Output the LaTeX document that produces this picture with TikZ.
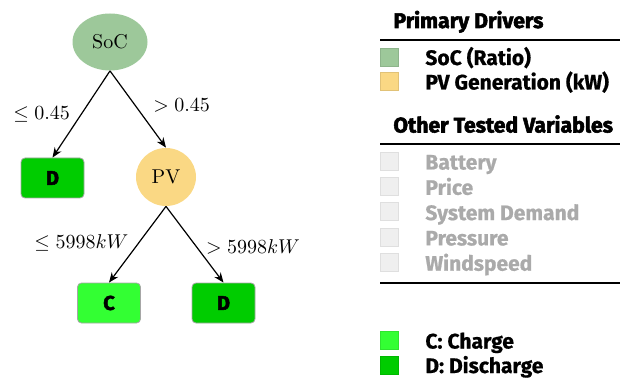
\documentclass[tikz,border=0pt]{standalone}
\usepackage{fontspec}
\newfontfamily\legfont[FakeBold=0.8]{Fira Sans}
\newfontfamily\legheavy[FakeBold=2.5]{Fira Sans}
\usetikzlibrary{shapes.geometric,arrows.meta}
\definecolor{socgreen}{HTML}{9DC89A}
\definecolor{pvyellow}{HTML}{FAD884}
\definecolor{chgreen}{HTML}{33FF33}
\definecolor{dsgreen}{HTML}{00CC00}
\definecolor{offgrey}{HTML}{AAAAAA}
\definecolor{offfill}{HTML}{EFEFEF}
\tikzset{
  splitnode/.style={ellipse,inner sep=0pt,font=\fontsize{10}{12}\selectfont},
  leafbox/.style={rectangle,rounded corners=2pt,draw=gray!70,minimum width=31.5pt,minimum height=20pt,font=\legheavy\bfseries\fontsize{10}{12}\selectfont},
  legkey/.style={rectangle,minimum size=9pt,inner sep=0pt},
  legtext/.style={anchor=base west,inner sep=0pt,font=\legfont\bfseries\fontsize{10.5}{12}\selectfont},
  leghead/.style={anchor=base west,inner sep=0pt,font=\legheavy\bfseries\fontsize{10.6}{13}\selectfont},
  branch/.style={-{Stealth[length=5pt,width=4pt]},semithick}
}
\begin{document}
\begin{tikzpicture}[x=0.5pt,y=-0.5pt]
	\useasboundingbox (0,0) rectangle (620,379);
	% tree
	\node[splitnode,fill=socgreen,minimum width=37.5pt,minimum height=28.5pt] (soc) at (110,42) {SoC};
	\node[leafbox,fill=dsgreen] (leafa) at (52.5,178) {D};
	\node[splitnode,fill=pvyellow,minimum width=30pt,minimum height=29pt] (pv) at (166,177) {PV};
	\node[leafbox,fill=chgreen] (leafb) at (109,303) {C};
	\node[leafbox,fill=dsgreen] (leafc) at (223.5,303) {D};
	\draw[branch] (soc.south) -- node[midway,left,xshift=-2pt]{$\leq 0.45$} (leafa.north);
	\draw[branch] (soc.south) -- node[midway,right,xshift=4pt,yshift=2pt]{$> 0.45$} (pv.north);
	\draw[branch] (pv.south) -- node[midway,left,xshift=-1pt,yshift=1pt]{$\leq 5998kW$} (leafb.north);
	\draw[branch] (pv.south) -- node[midway,right,xshift=2pt,yshift=-1pt]{$> 5998kW$} (leafc.north);
	% legend
	\node[leghead] (hdprim) at (393,28) {Primary Drivers};
	\coordinate (ruleA) at (380,40);
	\draw[thick] (ruleA) -- ++(240,0);
	\node[legkey,fill=socgreen,draw=socgreen!90!black] (ksoc) at (389,57) {};
	\node[legtext] (tsoc) at (425,65) {SoC (Ratio)};
	\node[legkey,fill=pvyellow,draw=pvyellow!90!black] (kpv) at (389,81) {};
	\node[legtext] (tpv) at (425,89.5) {PV Generation (kW)};
	\node[leghead] (hdother) at (393,132.5) {Other Tested Variables};
	\coordinate (ruleB) at (380,144);
	\draw[thick] (ruleB) -- ++(240,0);
	\foreach \lbl [count=\i] in {Battery,Price,System Demand,Pressure,Windspeed}{
		\node[legkey,fill=offfill,draw=gray!25] (koff\i) at (389,{161+25.3*(\i-1)}) {};
		\node[legtext,text=offgrey] (toff\i) at (425,{169.5+25.3*(\i-1)}) {\lbl};
	}
	\coordinate (ruleC) at (380,283);
	\draw[thick] (ruleC) -- ++(240,0);
	\node[legkey,fill=chgreen,draw=chgreen!90!black] (kch) at (389,340) {};
	\node[legtext] (tch) at (425,348.5) {C: Charge};
	\node[legkey,fill=dsgreen,draw=dsgreen!90!black] (kds) at (389,365) {};
	\node[legtext] (tds) at (425,373) {D: Discharge};
\end{tikzpicture}
\end{document}
